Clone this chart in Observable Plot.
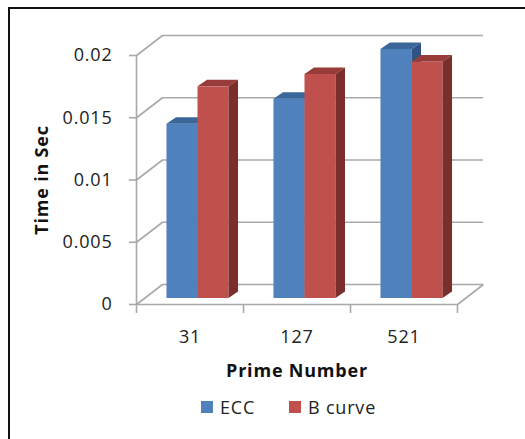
<!DOCTYPE html>
<html>
<head>
<meta charset="utf-8">
<script src="https://cdn.jsdelivr.net/npm/d3@7"></script>
<script src="https://cdn.jsdelivr.net/npm/@observablehq/plot@0.6"></script>
<style>
  html, body { margin: 0; padding: 0; background: #fff; overflow: hidden; }
  body { width: 525px; height: 439px; position: relative; font-family: "Open Sans", sans-serif; }
  #frame { position: absolute; left: 8px; top: 7px; width: 600px; height: 500px;
           border-left: 2px solid #111; border-top: 2px solid #111; box-sizing: border-box; }
  #chart { position: absolute; left: 0; top: 0; }
  #chart svg text { letter-spacing: 0.8px; }
  #legend { position: absolute; left: 0; top: 395px; width: 525px; box-sizing: border-box;
            padding-left: 52px; display: flex; justify-content: center; align-items: center;
            font-size: 18px; letter-spacing: 0.8px; color: #222; }
  .item { display: flex; align-items: center; }
  .sw { width: 12px; height: 12px; margin-right: 7px; }
</style>
</head>
<body>
<div id="frame"></div>
<div id="chart"></div>
<div id="legend"></div>
<script>
// Encryption timing: ECC vs B curve per prime field size
const categories = ["31", "127", "521"];
const eccTimes = [0.014, 0.016, 0.020];
const bCurveTimes = [0.017, 0.018, 0.019];
const seriesNames = ["ECC", "B curve"];
const yTicks = [0, 0.005, 0.01, 0.015, 0.02];
const yTickLabels = ["0", "0.005", "0.01", "0.015", "0.02"];

// palette: front, top, side faces
const palette = {
  "ECC": {front: "#4f81bd", top: "#3b6699", side: "#2f5484"},
  "B curve": {front: "#c0504d", top: "#973c39", side: "#7b2f2d"}
};

// layout
const W = 525, H = 390, ML = 136, MR = 68, MT = 55, MB = 86;
const yMax = 0.02;
const pxPerX = (W - ML - MR) / categories.length;
const pxPerY = (H - MT - MB) / yMax;
const WALL = {dx: 26, dy: 20};      // depth of the back wall, px
const BAR_SHIFT = {dx: 8, dy: -6};  // bars sit slightly behind the front plane
const BAR_DEPTH = {dx: 9.5, dy: 6.5};
const BAR_W = 0.29;
const wallX = WALL.dx / pxPerX, wallY = WALL.dy / pxPerY;
const depthX = BAR_DEPTH.dx / pxPerX, depthY = BAR_DEPTH.dy / pxPerY;
const gridColor = "#a9a9a9";
const FS = 18;

const seriesValues = [eccTimes, bCurveTimes];
const bars = seriesNames.flatMap((name, si) => categories.map((c, i) => {
  const x1 = si === 0 ? i + 0.5 - BAR_W : i + 0.5;
  return {name, key: name + c, value: seriesValues[si][i], x1, x2: x1 + BAR_W};
}));

function barMarks(name) {
  const b = bars.filter(d => d.name === name);
  const c = palette[name];
  const side = b.flatMap(d => [
    {key: d.key, x: d.x2, y1: 0, y2: d.value},
    {key: d.key, x: d.x2 + depthX, y1: depthY, y2: d.value + depthY}
  ]);
  const top = b.flatMap(d => [
    {key: d.key, y: d.value, x1: d.x1, x2: d.x2},
    {key: d.key, y: d.value + depthY, x1: d.x1 + depthX, x2: d.x2 + depthX}
  ]);
  return [
    Plot.rectY(b, {x1: "x1", x2: "x2", y1: 0, y2: "value", fill: c.front, ...BAR_SHIFT}),
    Plot.areaX(top, {y: "y", x1: "x1", x2: "x2", z: "key", fill: c.top, ...BAR_SHIFT}),
    Plot.areaY(side, {x: "x", y1: "y1", y2: "y2", z: "key", fill: c.side, ...BAR_SHIFT})
  ];
}

const xEdges = d3.range(categories.length + 1);

const chart = Plot.plot({
  width: W, height: H,
  marginLeft: ML, marginRight: MR, marginTop: MT, marginBottom: MB,
  style: {fontFamily: "'Open Sans', sans-serif", fontSize: FS + "px", color: "#222", background: "transparent"},
  x: {domain: [0, categories.length], axis: null},
  y: {domain: [0, yMax], axis: null},
  marks: [
    // back wall gridlines
    Plot.ruleY(yTicks, {x1: 0, x2: categories.length, stroke: gridColor, strokeWidth: 1.6, dx: WALL.dx, dy: -WALL.dy}),
    // left wall diagonals
    Plot.link(yTicks, {x1: 0, y1: d => d, x2: wallX, y2: d => d + wallY, stroke: gridColor, strokeWidth: 1.6}),
    // floor: right edge and front edge
    Plot.link([0], {x1: categories.length, y1: 0, x2: categories.length + wallX, y2: wallY, stroke: gridColor, strokeWidth: 1.6}),
    Plot.ruleY([0], {x1: 0, x2: categories.length, stroke: gridColor, strokeWidth: 1.6}),
    // front y axis line and ticks
    Plot.ruleX([0], {y1: 0, y2: yMax, stroke: gridColor, strokeWidth: 1.6}),
    Plot.ruleY(yTicks, {x1: 0, x2: -7 / pxPerX, stroke: gridColor, strokeWidth: 1.6}),
    // x ticks at category edges
    Plot.ruleX(xEdges, {y1: 0, y2: -9 / pxPerY, stroke: gridColor, strokeWidth: 1.6}),
    // bars
    ...barMarks("ECC"),
    ...barMarks("B curve"),
    // tick labels
    Plot.text(yTicks, {x: 0, y: d => d, text: (d, i) => yTickLabels[i], textAnchor: "end", dx: -24, fontSize: FS, fill: "#222"}),
    Plot.text(categories, {x: (d, i) => i + 0.5, y: 0, text: d => d, dy: 33, fontSize: FS, fill: "#222"}),
    // axis titles
    Plot.text(["Prime Number"], {x: categories.length / 2, y: 0, dy: 67, fontSize: FS, fontWeight: "bold", fill: "#111"}),
    Plot.text(["Time in Sec"], {frameAnchor: "left", textAnchor: "middle", dx: -94, rotate: -90, fontSize: FS, fontWeight: "bold", fill: "#111"})
  ]
});
document.getElementById("chart").appendChild(chart);

// legend
const legend = document.getElementById("legend");
seriesNames.forEach((name, i) => {
  const item = document.createElement("div");
  item.className = "item";
  if (i > 0) item.style.marginLeft = "34px";
  const sw = document.createElement("div");
  sw.className = "sw";
  sw.style.background = palette[name].front;
  const label = document.createElement("span");
  label.textContent = name;
  item.append(sw, label);
  legend.appendChild(item);
});
</script>
</body>
</html>
